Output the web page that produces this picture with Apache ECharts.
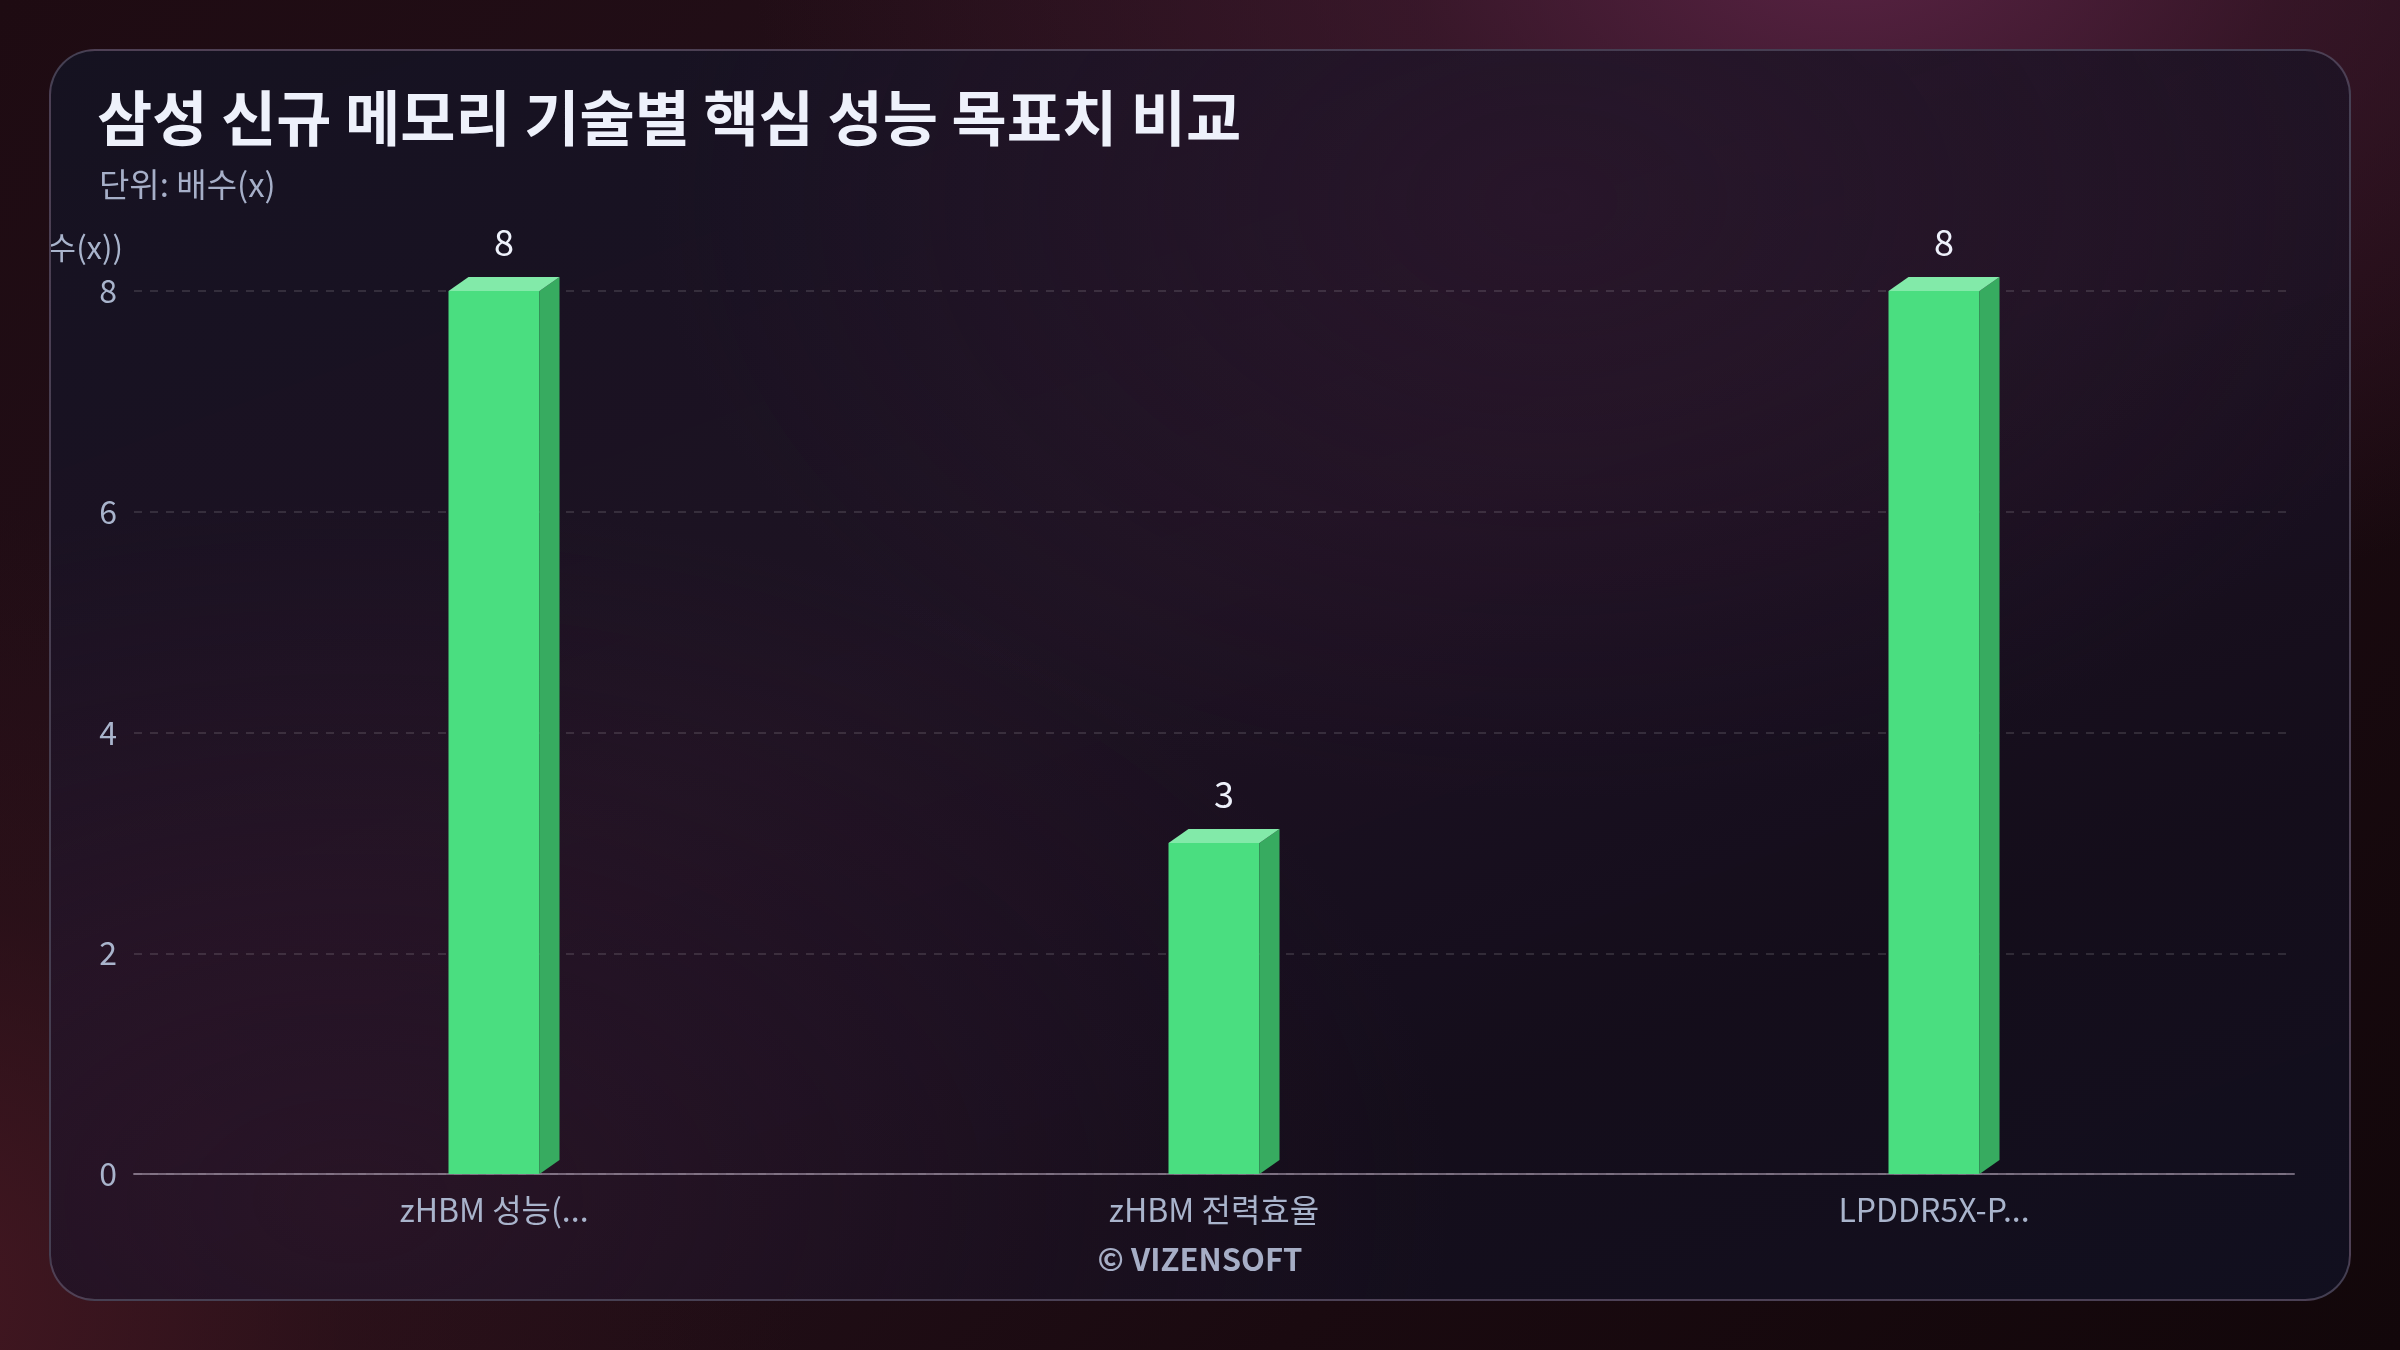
<!DOCTYPE html>
<html>
<head>
<meta charset="utf-8">
<script src="https://cdn.jsdelivr.net/npm/echarts@6/dist/echarts.min.js"></script>
<style>
  html, body { margin: 0; padding: 0; width: 2400px; height: 1350px; overflow: hidden; }
  body {
    background:
      radial-gradient(ellipse 1100px 700px at 1850px -60px, rgba(92,36,70,0.95) 0%, rgba(70,28,52,0.6) 40%, rgba(40,14,24,0) 100%),
      radial-gradient(ellipse 900px 800px at -100px 1300px, rgba(70,24,34,0.95) 0%, rgba(50,18,26,0.5) 50%, rgba(30,10,16,0) 100%),
      linear-gradient(135deg, #1e0b12 0%, #24101a 40%, #1a0a10 70%, #12070a 100%);
  }
  #card {
    position: absolute; left: 49px; top: 49px; width: 2298px; height: 1248px;
    border: 2px solid rgba(150,140,165,0.38);
    border-radius: 46px; overflow: hidden;
    background:
      radial-gradient(ellipse 1100px 700px at 300px 1150px, rgba(52,24,44,0.55) 0%, rgba(40,20,40,0) 100%),
      radial-gradient(ellipse 900px 600px at 1500px 150px, rgba(52,26,50,0.45) 0%, rgba(40,20,40,0) 100%),
      linear-gradient(160deg, rgba(21,19,34,0.96) 0%, rgba(30,19,36,0.92) 45%, rgba(20,14,28,0.95) 75%, rgba(18,16,32,0.96) 100%);
  }
  #chart { position: absolute; left: 0; top: 0; width: 2298px; height: 1248px; }
</style>
</head>
<body>
<div id="card"><div id="chart"></div></div>
<script>
const titleText = '삼성 신규 메모리 기술별 핵심 성능 목표치 비교';
const subtitleText = '단위: 배수(x)';
const yAxisName = '(배수(x))';
const categories = ['zHBM 성능(...', 'zHBM 전력효율', 'LPDDR5X-P...'];
const values = [8, 3, 8];
const yTicks = { min: 0, max: 8, interval: 2 };
const watermark = '© VIZENSOFT';

const FONT = '"Noto Sans CJK KR", "Noto Sans", sans-serif';
const chart = echarts.init(document.getElementById('chart'));

const BAR_W = 91, DX = 20, DY = 14;

chart.setOption({
  backgroundColor: 'transparent',
  animation: false,
  title: [
    { text: titleText, left: 41, top: 32,
      textStyle: { color: '#eef1fb', fontSize: 60, fontWeight: 'bold', fontFamily: FONT } },
    { text: subtitleText, left: 43, top: 112,
      textStyle: { color: '#a6afc8', fontSize: 33, fontWeight: 'normal', fontFamily: FONT } }
  ],
  grid: { left: 83, right: 55, top: 240, bottom: 125, containLabel: false, outerBoundsMode: 'none' },
  xAxis: {
    type: 'category',
    data: categories,
    axisLine: { show: true, lineStyle: { color: 'rgba(175,160,180,0.6)', width: 2 } },
    axisTick: { show: false },
    axisLabel: { color: '#a9b4cc', fontSize: 32, fontFamily: FONT, margin: 20, interval: 0 },
    splitLine: { show: false }
  },
  yAxis: {
    type: 'value',
    min: yTicks.min, max: yTicks.max, interval: yTicks.interval,
    name: yAxisName,
    nameLocation: 'end',
    nameGap: 28,
    nameTextStyle: { color: '#a9b4cc', fontSize: 31, fontFamily: FONT, align: 'right', padding: [0, 11, 0, 0] },
    axisLine: { show: false },
    axisTick: { show: false },
    axisLabel: { color: '#a9b4cc', fontSize: 32, fontFamily: FONT, margin: 17 },
    splitLine: { show: true, lineStyle: { color: 'rgba(255,255,255,0.12)', type: [8, 8], width: 2 } }
  },
  graphic: [
    { type: 'text', left: 'center', top: 1193,
      style: { text: watermark, fill: '#a6aec6', fontSize: 31, fontWeight: 'bold', fontFamily: FONT } }
  ],
  series: [{
    type: 'custom',
    data: values.map((v, i) => [i, v]),
    encode: { x: 0, y: 1 },
    renderItem: function (params, api) {
      const top = api.coord([api.value(0), api.value(1)]);
      const base = api.coord([api.value(0), 0]);
      const x0 = top[0] - BAR_W / 2, x1 = x0 + BAR_W;
      const t = top[1], b = base[1];
      return {
        type: 'group',
        children: [
          { type: 'rect', shape: { x: x0, y: t, width: BAR_W, height: b - t },
            style: { fill: '#4ade80' } },
          { type: 'polygon', shape: { points: [[x1, t], [x1 + DX, t - DY], [x1 + DX, b - DY], [x1, b]] },
            style: { fill: '#37ab60' } },
          { type: 'polygon', shape: { points: [[x0, t], [x0 + DX, t - DY], [x1 + DX, t - DY], [x1, t]] },
            style: { fill: '#82eaa9' } },
          { type: 'text', x: x0 + (BAR_W + DX) / 2, y: t - DY - 17,
            style: { text: String(api.value(1)), fill: '#eef1fb', fontSize: 36, fontFamily: FONT,
                     align: 'center', verticalAlign: 'bottom' } }
        ]
      };
    }
  }]
});
</script>
</body>
</html>
